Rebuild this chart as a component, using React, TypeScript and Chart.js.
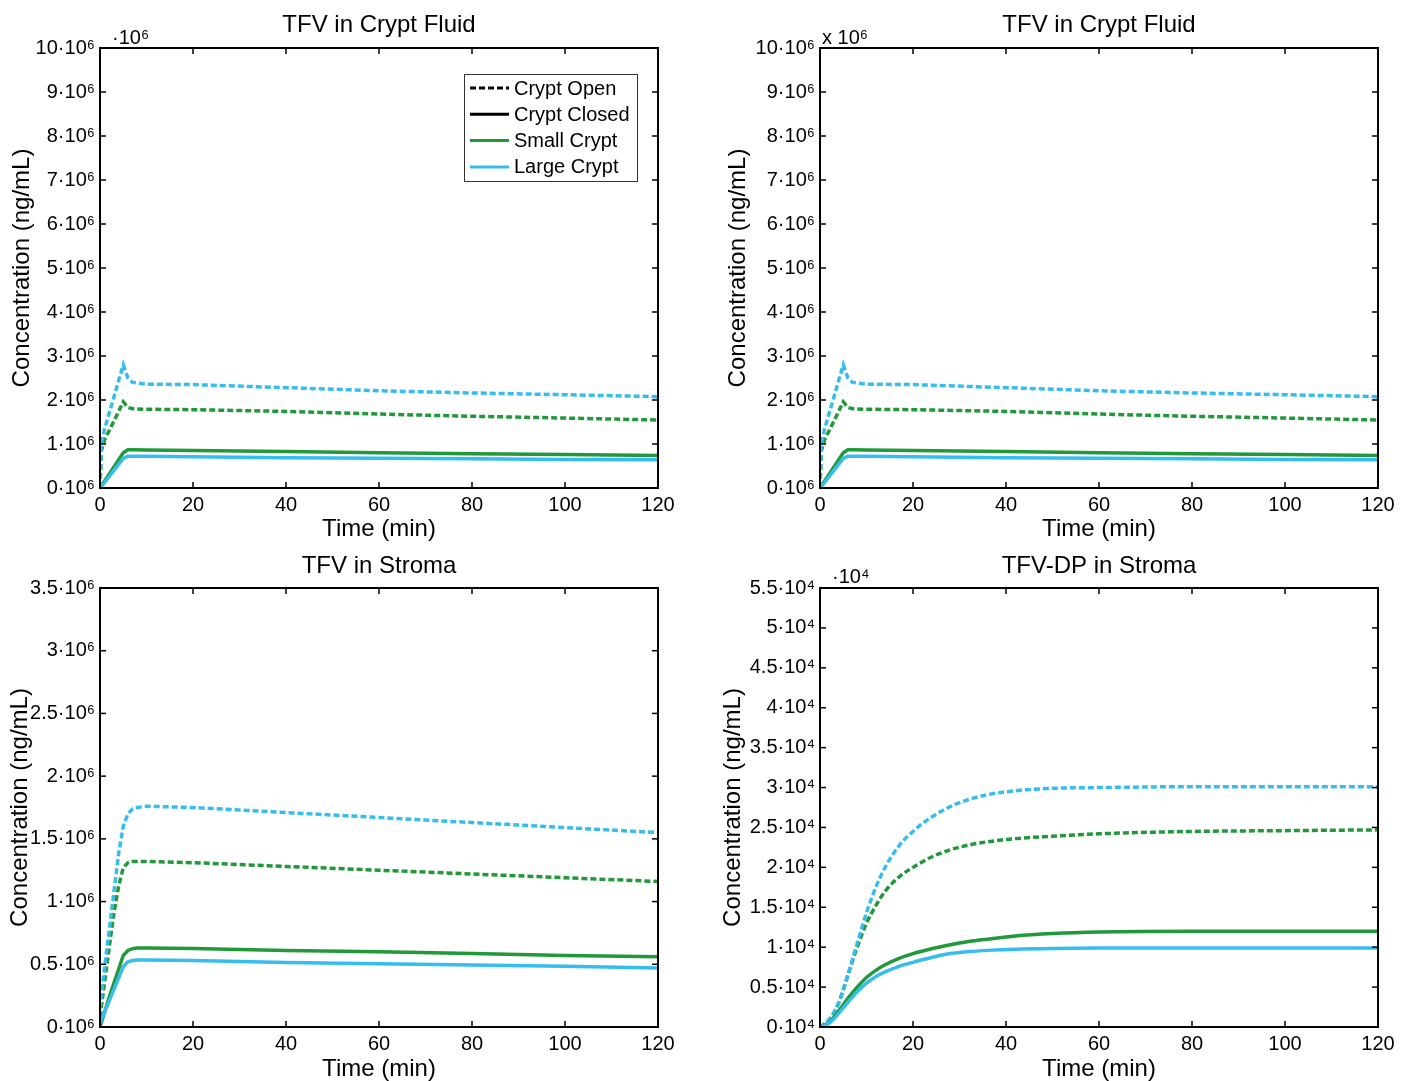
import React, { useEffect, useRef } from "react";
import { Chart, registerables } from "chart.js";

Chart.register(...registerables);

const GREEN = "#21993a";
const BLUE = "#36bdf0";
const FONT = "'Liberation Sans', Arial, Helvetica, sans-serif";

// ---- TFV in Crypt Fluid (values in 10^6 ng/mL) ----
const FLUID_TIME = [0, 0.3, 1, 3, 5, 6, 7, 10, 20, 40, 60, 80, 100, 120];
const FLUID_OPEN_LARGE = [0, 1.0, 1.35, 2.07, 2.8, 2.5, 2.4, 2.36, 2.35, 2.28, 2.21, 2.16, 2.12, 2.075];
const FLUID_OPEN_SMALL = [0, 0.85, 1.1, 1.52, 1.96, 1.83, 1.8, 1.79, 1.78, 1.74, 1.68, 1.63, 1.59, 1.545];
const FLUID_CLOSED_SMALL = [0, 0.05, 0.16, 0.48, 0.8, 0.87, 0.87, 0.865, 0.855, 0.83, 0.8, 0.78, 0.76, 0.74];
const FLUID_CLOSED_LARGE = [0, 0.04, 0.13, 0.4, 0.67, 0.72, 0.72, 0.72, 0.71, 0.69, 0.675, 0.665, 0.65, 0.64];

// ---- TFV in Stroma (values in 10^6 ng/mL) ----
const STROMA_TIME = [0, 1, 2, 3, 4, 5, 6, 7, 8, 10, 20, 40, 60, 80, 100, 120];
const STROMA_OPEN_LARGE = [0.15, 0.48, 0.78, 1.08, 1.38, 1.6, 1.7, 1.74, 1.75, 1.76, 1.75, 1.71, 1.67, 1.63, 1.59, 1.55];
const STROMA_OPEN_SMALL = [0.08, 0.36, 0.64, 0.91, 1.12, 1.27, 1.31, 1.32, 1.32, 1.32, 1.31, 1.28, 1.25, 1.22, 1.19, 1.16];
const STROMA_CLOSED_SMALL = [0, 0.12, 0.24, 0.35, 0.46, 0.57, 0.61, 0.625, 0.63, 0.63, 0.625, 0.61, 0.6, 0.585, 0.57, 0.56];
const STROMA_CLOSED_LARGE = [0.03, 0.12, 0.21, 0.3, 0.39, 0.48, 0.52, 0.53, 0.535, 0.535, 0.53, 0.515, 0.505, 0.495, 0.485, 0.47];

// ---- TFV-DP in Stroma (values in 10^4 ng/mL) ----
const DP_TIME = [0, 2, 4, 6, 8, 10, 12, 14, 17, 20, 24, 28, 32, 36, 42, 50, 60, 80, 100, 120];
const DP_OPEN_LARGE = [0, 0.1, 0.3, 0.65, 1.05, 1.43, 1.75, 2.0, 2.27, 2.45, 2.63, 2.76, 2.85, 2.91, 2.96, 2.99, 3.0, 3.01, 3.01, 3.01];
const DP_OPEN_SMALL = [0, 0.08, 0.3, 0.65, 1.0, 1.3, 1.52, 1.7, 1.88, 2.0, 2.13, 2.22, 2.28, 2.32, 2.36, 2.39, 2.42, 2.45, 2.46, 2.47];
const DP_CLOSED_SMALL = [0, 0.06, 0.2, 0.36, 0.5, 0.62, 0.71, 0.78, 0.86, 0.92, 0.98, 1.03, 1.07, 1.1, 1.14, 1.17, 1.19, 1.2, 1.2, 1.2];
const DP_CLOSED_LARGE = [0, 0.05, 0.17, 0.31, 0.44, 0.55, 0.63, 0.69, 0.76, 0.81, 0.87, 0.92, 0.945, 0.96, 0.975, 0.985, 0.99, 0.99, 0.99, 0.99];

const X_TICK_STEP = 20;
const LEGEND_LABELS = ["Crypt Open", "Crypt Closed", "Small Crypt", "Large Crypt"];

type Panel = {
  title: string;
  time: number[];
  openLarge: number[];
  openSmall: number[];
  closedSmall: number[];
  closedLarge: number[];
  yMax: number;
  yStep: number;
  unit: string;
  exponent: string;
  smooth: boolean;
  legend: boolean;
  left: number;
  top: number;
  width: number;
  height: number;
  padTop: number;
  padRight: number;
  yScaleWidth: number;
  xScaleHeight: number;
  yTitlePad: number;
  xTitlePad: number;
  titleY: number;
  expDx: number;
  expY: number;
};

const PANELS: Panel[] = [
  {
    title: "TFV in Crypt Fluid", time: FLUID_TIME,
    openLarge: FLUID_OPEN_LARGE, openSmall: FLUID_OPEN_SMALL,
    closedSmall: FLUID_CLOSED_SMALL, closedLarge: FLUID_CLOSED_LARGE,
    yMax: 10, yStep: 1, unit: "·10⁶", exponent: "·10⁶", smooth: false, legend: true,
    left: 0, top: 0, width: 704, height: 548, padTop: 48, padRight: 46,
    yScaleWidth: 100, xScaleHeight: 60, yTitlePad: 10, xTitlePad: 7, titleY: 32, expDx: 12, expY: 44,
  },
  {
    title: "TFV in Crypt Fluid", time: FLUID_TIME,
    openLarge: FLUID_OPEN_LARGE, openSmall: FLUID_OPEN_SMALL,
    closedSmall: FLUID_CLOSED_SMALL, closedLarge: FLUID_CLOSED_LARGE,
    yMax: 10, yStep: 1, unit: "·10⁶", exponent: "x 10⁶", smooth: false, legend: false,
    left: 704, top: 0, width: 704, height: 548, padTop: 48, padRight: 30,
    yScaleWidth: 116, xScaleHeight: 60, yTitlePad: 22, xTitlePad: 7, titleY: 32, expDx: 2, expY: 44,
  },
  {
    title: "TFV in Stroma", time: STROMA_TIME,
    openLarge: STROMA_OPEN_LARGE, openSmall: STROMA_OPEN_SMALL,
    closedSmall: STROMA_CLOSED_SMALL, closedLarge: STROMA_CLOSED_LARGE,
    yMax: 3.5, yStep: 0.5, unit: "·10⁶", exponent: "", smooth: false, legend: false,
    left: 0, top: 548, width: 704, height: 533, padTop: 40, padRight: 46,
    yScaleWidth: 100, xScaleHeight: 54, yTitlePad: 8, xTitlePad: 0, titleY: 25, expDx: 12, expY: 35,
  },
  {
    title: "TFV-DP in Stroma", time: DP_TIME,
    openLarge: DP_OPEN_LARGE, openSmall: DP_OPEN_SMALL,
    closedSmall: DP_CLOSED_SMALL, closedLarge: DP_CLOSED_LARGE,
    yMax: 5.5, yStep: 0.5, unit: "·10⁴", exponent: "·10⁴", smooth: true, legend: false,
    left: 704, top: 548, width: 704, height: 533, padTop: 40, padRight: 30,
    yScaleWidth: 116, xScaleHeight: 54, yTitlePad: 17, xTitlePad: 0, titleY: 25, expDx: 12, expY: 35,
  },
];

function fmt(v: number): string {
  const r = Math.round(v * 10) / 10;
  return String(r);
}

function PanelChart({ p }: { p: Panel }) {
  const ref = useRef<HTMLCanvasElement | null>(null);

  useEffect(() => {
    if (!ref.current) return;
    const pts = (vals: number[]) => p.time.map((t, i) => ({ x: t, y: vals[i] }));
    const mk = (label: string, vals: number[], color: string, dashed: boolean) => ({
      label,
      data: pts(vals),
      borderColor: color,
      backgroundColor: color,
      borderWidth: 3.5,
      borderDash: dashed ? [6, 3] : [],
      pointRadius: 0,
      fill: false,
      tension: 0,
      cubicInterpolationMode: p.smooth ? "monotone" : "default",
    });

    const boxPlugin = {
      id: "matlabBox",
      afterDraw(chart: any) {
        const { ctx, chartArea: a, scales } = chart;
        ctx.save();
        ctx.strokeStyle = "#000";
        ctx.lineWidth = 1.5;
        ctx.setLineDash([]);
        const seg = (x1: number, y1: number, x2: number, y2: number) => {
          ctx.beginPath();
          ctx.moveTo(x1, y1);
          ctx.lineTo(x2, y2);
          ctx.stroke();
        };
        scales.x.ticks.forEach((t: any) => {
          const px = scales.x.getPixelForValue(t.value);
          seg(px, a.bottom, px, a.bottom - 6);
          seg(px, a.top, px, a.top + 6);
        });
        scales.y.ticks.forEach((t: any) => {
          const py = scales.y.getPixelForValue(t.value);
          seg(a.left, py, a.left + 6, py);
          seg(a.right, py, a.right - 6, py);
        });
        ctx.lineWidth = 2;
        ctx.strokeRect(a.left, a.top, a.right - a.left, a.bottom - a.top);

        ctx.fillStyle = "#000";
        ctx.font = `24px ${FONT}`;
        ctx.textAlign = "center";
        ctx.textBaseline = "alphabetic";
        ctx.fillText(p.title, (a.left + a.right) / 2, p.titleY);

        if (p.exponent) {
          ctx.font = `20px ${FONT}`;
          ctx.textAlign = "left";
          ctx.fillText(p.exponent, a.left + p.expDx, p.expY);
        }

        if (p.legend) {
          const bx = 464, by = 74, bw = 173, bh = 107;
          ctx.fillStyle = "#fff";
          ctx.fillRect(bx, by, bw, bh);
          ctx.strokeStyle = "#333";
          ctx.lineWidth = 1;
          ctx.strokeRect(bx + 0.5, by + 0.5, bw, bh);
          const styles = [
            { c: "#000", d: [6, 3] },
            { c: "#000", d: [] },
            { c: GREEN, d: [] },
            { c: BLUE, d: [] },
          ];
          ctx.font = `20px ${FONT}`;
          ctx.textAlign = "left";
          ctx.textBaseline = "middle";
          LEGEND_LABELS.forEach((lab, i) => {
            const cy = 88 + i * 26.3;
            ctx.strokeStyle = styles[i].c;
            ctx.lineWidth = 3;
            ctx.setLineDash(styles[i].d);
            seg(470, cy, 509, cy);
            ctx.setLineDash([]);
            ctx.fillStyle = "#000";
            ctx.fillText(lab, 514, cy + 1);
          });
        }
        ctx.restore();
      },
    };

    const chart = new Chart(ref.current, {
      type: "line",
      data: {
        datasets: [
          mk("Large Crypt, Closed", p.closedLarge, BLUE, false),
          mk("Small Crypt, Closed", p.closedSmall, GREEN, false),
          mk("Large Crypt, Open", p.openLarge, BLUE, true),
          mk("Small Crypt, Open", p.openSmall, GREEN, true),
        ] as any,
      },
      options: {
        animation: false,
        responsive: false,
        maintainAspectRatio: false,
        layout: { padding: { left: 0, top: p.padTop, right: p.padRight, bottom: 0 } },
        plugins: { legend: { display: false }, tooltip: { enabled: false }, title: { display: false } },
        scales: {
          x: {
            type: "linear",
            min: 0,
            max: 120,
            grid: { display: false, drawTicks: false },
            border: { display: false },
            ticks: {
              stepSize: X_TICK_STEP,
              padding: 5,
              color: "#000",
              font: { family: FONT, size: 20 },
              maxRotation: 0,
            },
            title: {
              display: true,
              text: "Time (min)",
              color: "#000",
              font: { family: FONT, size: 24, lineHeight: 1 },
              padding: { top: 0, bottom: p.xTitlePad },
            },
            afterFit: (s: any) => {
              s.height = p.xScaleHeight;
            },
          },
          y: {
            type: "linear",
            min: 0,
            max: p.yMax,
            grid: { display: false, drawTicks: false },
            border: { display: false },
            ticks: {
              stepSize: p.yStep,
              padding: 5,
              color: "#000",
              font: { family: FONT, size: 20 },
              callback: (v: any) => fmt(Number(v)) + p.unit,
            },
            title: {
              display: true,
              text: "Concentration (ng/mL)",
              color: "#000",
              font: { family: FONT, size: 24, lineHeight: 1 },
              padding: { top: p.yTitlePad, bottom: 0 },
            },
            afterFit: (s: any) => {
              s.width = p.yScaleWidth;
            },
          },
        },
      } as any,
      plugins: [boxPlugin],
    });
    return () => chart.destroy();
  }, [p]);

  return (
    <canvas
      ref={ref}
      width={p.width}
      height={p.height}
      style={{ position: "absolute", left: p.left, top: p.top, width: p.width, height: p.height }}
    />
  );
}

export default function App() {
  return (
    <div style={{ position: "absolute", left: 0, top: 0, width: 1408, height: 1081, background: "#fff", overflow: "hidden" }}>
      {PANELS.map((p, i) => (
        <PanelChart key={i} p={p} />
      ))}
    </div>
  );
}
